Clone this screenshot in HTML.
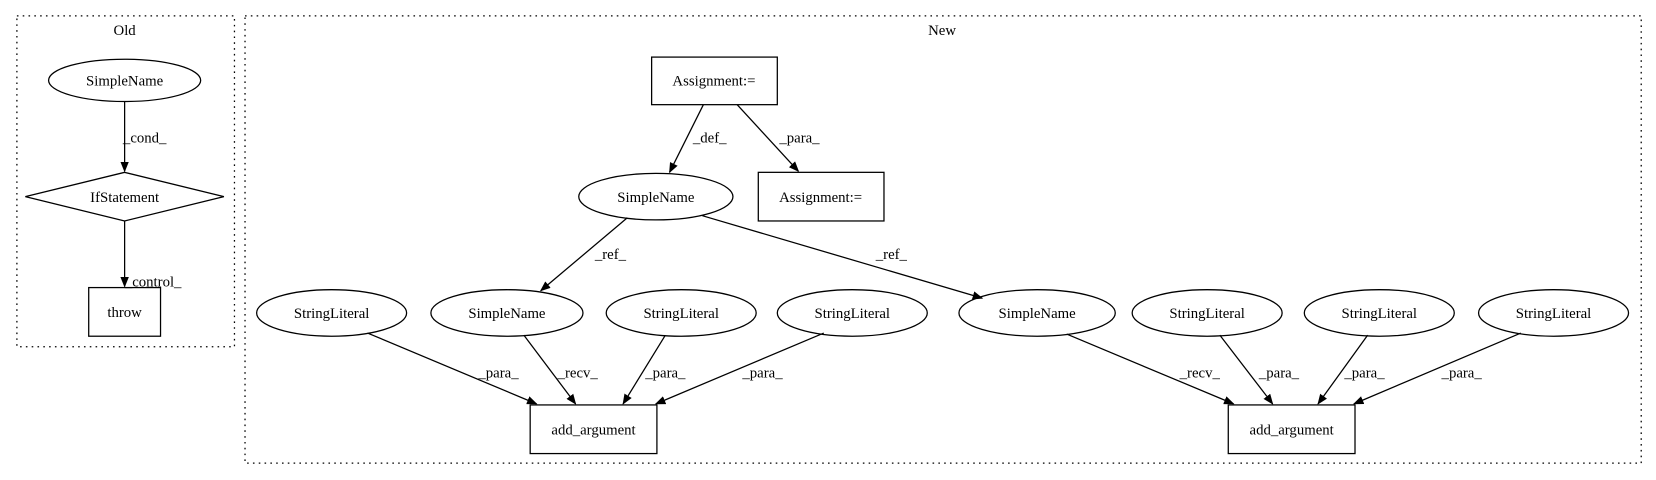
<!DOCTYPE html>
<html><head><style>html,body{margin:0;padding:0;background:#fff}svg{display:block}</style></head>
<body>
<svg width="1656" height="480" viewBox="0 0 1568 454" preserveAspectRatio="none" xmlns="http://www.w3.org/2000/svg" font-family="Liberation Serif, serif" font-size="14">
<defs><marker id="a" markerWidth="10" markerHeight="8" refX="9" refY="4" orient="auto" markerUnits="userSpaceOnUse"><path d="M0,0 L10,4 L0,8 z" fill="#000"/></marker></defs>
<g fill="none" stroke="#000" stroke-dasharray="1.5,4" stroke-width="1.2">
<rect x="16" y="15" width="206" height="313"/>
<rect x="232" y="15" width="1322" height="423"/>
</g>
<g text-anchor="middle" fill="#000">
<text x="118" y="33">Old</text><text x="892" y="33">New</text>
</g>
<g fill="#fff" stroke="#000" stroke-width="1.2">
<ellipse cx="118" cy="76" rx="72" ry="20"/>
<polygon points="118,163 212,186 118,209 24,186"/>
<rect x="84" y="272" width="68" height="46"/>
<rect x="617" y="54" width="119" height="45"/>
<ellipse cx="621" cy="186" rx="73" ry="22"/>
<rect x="718" y="163" width="119" height="46"/>
<ellipse cx="314" cy="296" rx="71" ry="22"/>
<ellipse cx="480" cy="296" rx="72" ry="22"/>
<ellipse cx="645" cy="296" rx="71" ry="22"/>
<ellipse cx="807" cy="296" rx="71" ry="22"/>
<ellipse cx="982" cy="296" rx="74" ry="22"/>
<ellipse cx="1143" cy="296" rx="71" ry="22"/>
<ellipse cx="1306" cy="296" rx="71" ry="22"/>
<ellipse cx="1471" cy="296" rx="71" ry="22"/>
<rect x="502" y="383" width="120" height="46"/>
<rect x="1163" y="383" width="120" height="46"/>
</g>
<g stroke="#000" stroke-width="1.2" marker-end="url(#a)">
<line x1="118" y1="96" x2="118" y2="162"/>
<line x1="118" y1="209" x2="118" y2="271"/>
<line x1="666" y1="99" x2="634" y2="163"/>
<line x1="698" y1="99" x2="756" y2="162"/>
<line x1="594" y1="206" x2="512" y2="275"/>
<line x1="665" y1="204" x2="930" y2="282"/>
<line x1="348" y1="315" x2="508" y2="382"/>
<line x1="496" y1="317" x2="545" y2="382"/>
<line x1="630" y1="317" x2="590" y2="382"/>
<line x1="780" y1="315" x2="621" y2="382"/>
<line x1="1010" y1="316" x2="1168" y2="382"/>
<line x1="1155" y1="317" x2="1205" y2="382"/>
<line x1="1295" y1="317" x2="1248" y2="382"/>
<line x1="1440" y1="315" x2="1282" y2="382"/>
</g>
<g text-anchor="middle" fill="#000">
<text x="118" y="81">SimpleName</text>
<text x="118" y="191">IfStatement</text>
<text x="118" y="300">throw</text>
<text x="676" y="81">Assignment:=</text>
<text x="621" y="191">SimpleName</text>
<text x="777" y="191">Assignment:=</text>
<text x="314" y="301">StringLiteral</text>
<text x="480" y="301">SimpleName</text>
<text x="645" y="301">StringLiteral</text>
<text x="807" y="301">StringLiteral</text>
<text x="982" y="301">SimpleName</text>
<text x="1143" y="301">StringLiteral</text>
<text x="1306" y="301">StringLiteral</text>
<text x="1471" y="301">StringLiteral</text>
<text x="562" y="411">add_argument</text>
<text x="1223" y="411">add_argument</text>
<text x="137" y="135">_cond_</text>
<text x="145" y="271">_control_</text>
<text x="672" y="135">_def_</text>
<text x="757" y="135">_para_</text>
<text x="578" y="245">_ref_</text>
<text x="844" y="245">_ref_</text>
<text x="472" y="357">_para_</text>
<text x="547" y="357">_recv_</text>
<text x="630" y="357">_para_</text>
<text x="722" y="357">_para_</text>
<text x="1136" y="357">_recv_</text>
<text x="1211" y="357">_para_</text>
<text x="1292" y="357">_para_</text>
<text x="1384" y="357">_para_</text>
</g>
</svg>
</body></html>
